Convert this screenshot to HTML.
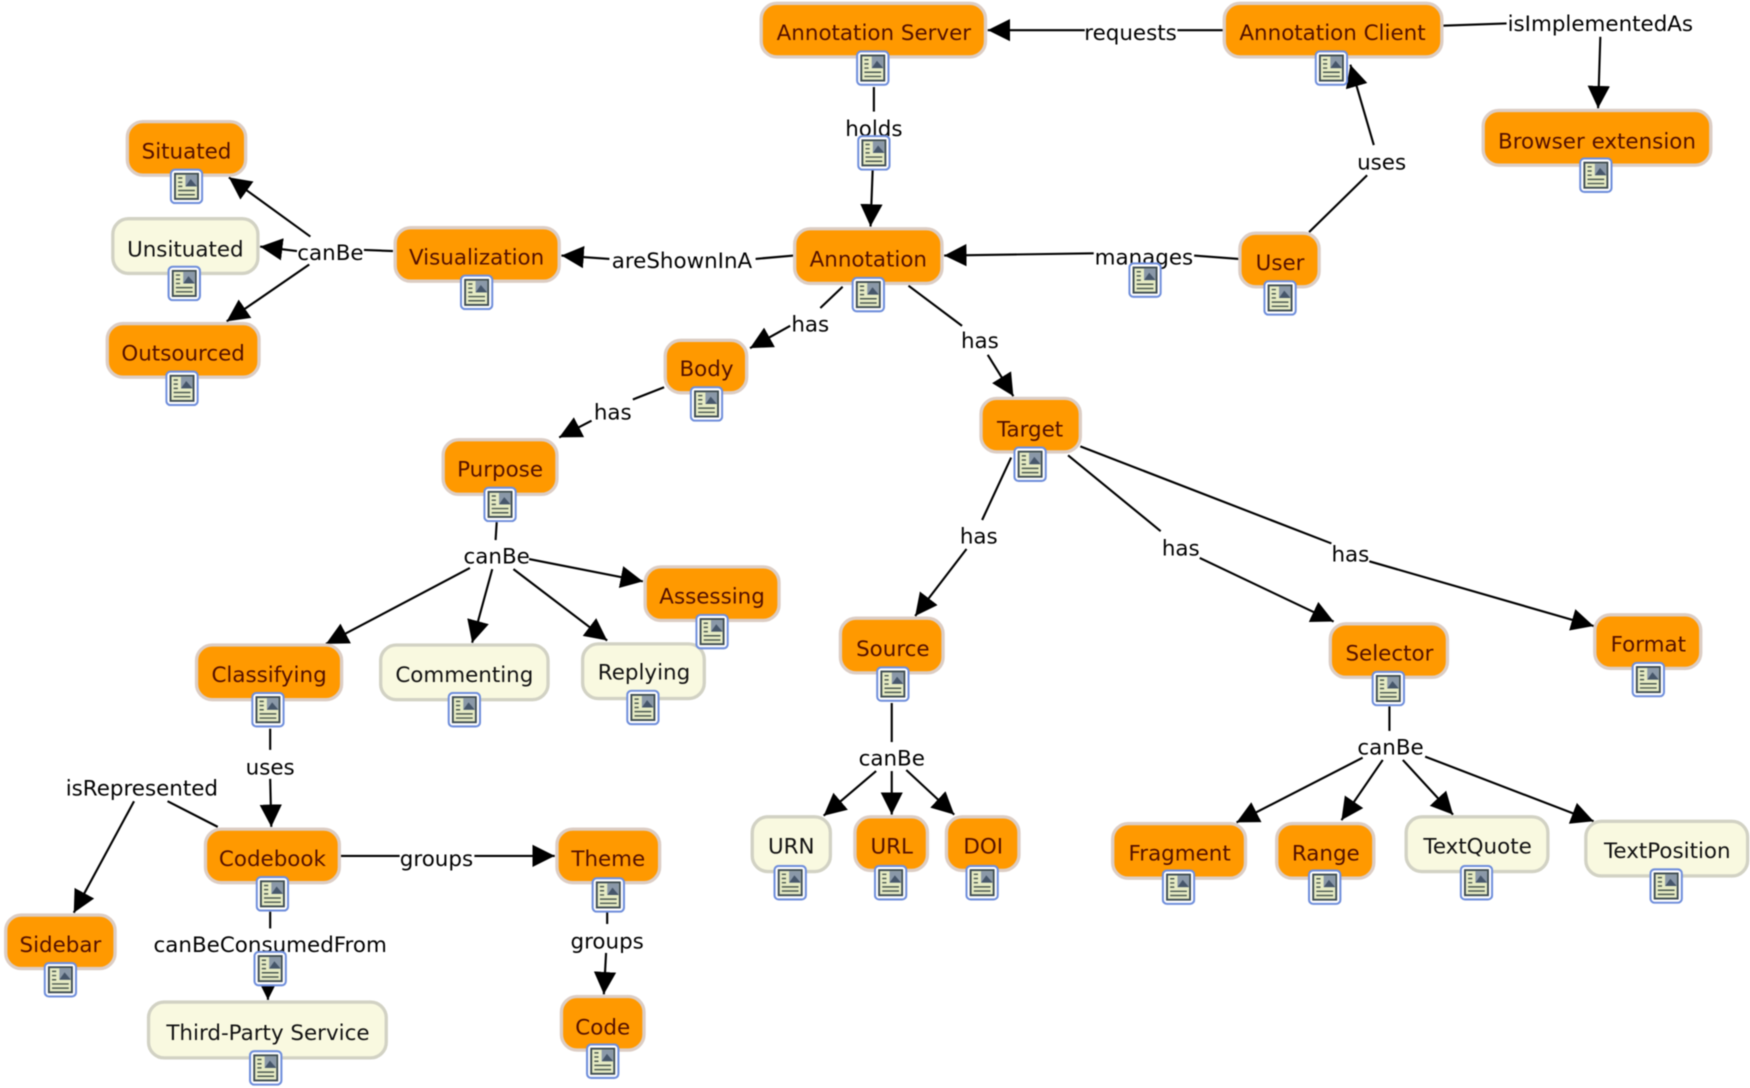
<!DOCTYPE html>
<html><head><meta charset="utf-8"><style>
html,body{margin:0;padding:0;background:#fff;width:1750px;height:1088px;overflow:hidden}
svg{display:block;filter:blur(.55px)}
text{font-family:"DejaVu Sans",sans-serif;font-size:19.2px;text-anchor:middle}
.o{fill:#ff9900;stroke:#dccdc4;stroke-width:3}
.c{fill:#f9f9e0;stroke:#d2d2c4;stroke-width:3}
.ot{fill:#541000}.ct{fill:#111}.l{fill:#000}
.e line{stroke:#000;stroke-width:1.9}
</style></head><body>
<svg width="1750" height="1088" viewBox="0 0 1568 975" xmlns="http://www.w3.org/2000/svg">
<defs>
<marker id="a" markerUnits="userSpaceOnUse" markerWidth="22" markerHeight="22" refX="20" refY="10" orient="auto"><path d="M0 0L20 10L0 20Z" fill="#000"/></marker>
<symbol id="i" width="30" height="32" viewBox="0 0 32 34">
<rect x="1" y="1" width="30" height="32" rx="4" fill="#fff" stroke="#6f8edb" stroke-width="2"/>
<rect x="5" y="5" width="22" height="24" fill="#e6ebc4" stroke="#3c4a50" stroke-width="1.8"/>
<rect x="15" y="6" width="11" height="11" fill="#8a98a8"/>
<path d="M15 17L20 10L26 17Z" fill="#46566a"/>
<path d="M8 9h4M8 13h4M8 17h4M8 21h16M8 25h16" stroke="#4c5a50" stroke-width="1.4"/>
</symbol>
</defs>
<g class="e">
<line x1="1096" y1="27" x2="1055" y2="27"/><line x1="972" y1="27" x2="885" y2="27" marker-end="url(#a)"/>
<line x1="1293" y1="23" x2="1350" y2="21"/><line x1="1434" y1="33" x2="1432" y2="97" marker-end="url(#a)"/>
<line x1="783" y1="78" x2="783" y2="100"/><line x1="782" y1="150" x2="780" y2="203" marker-end="url(#a)"/>
<line x1="1173" y1="208" x2="1225" y2="157"/><line x1="1231" y1="130" x2="1210" y2="58" marker-end="url(#a)"/>
<line x1="1110" y1="232" x2="1070" y2="229"/><line x1="980" y1="227" x2="846" y2="229" marker-end="url(#a)"/>
<line x1="711" y1="229" x2="677" y2="232"/><line x1="546" y1="232" x2="503" y2="229" marker-end="url(#a)"/>
<line x1="352" y1="225" x2="326" y2="224"/><line x1="266" y1="225" x2="233" y2="221" marker-end="url(#a)"/>
<line x1="278" y1="212" x2="205" y2="159" marker-end="url(#a)"/><line x1="277" y1="237" x2="203" y2="288" marker-end="url(#a)"/>
<line x1="755" y1="257" x2="735" y2="276"/><line x1="708" y1="292" x2="672" y2="312" marker-end="url(#a)"/>
<line x1="814" y1="256" x2="862" y2="292"/><line x1="885" y1="318" x2="908" y2="355" marker-end="url(#a)"/>
<line x1="595" y1="347" x2="567" y2="358"/><line x1="530" y1="377" x2="501" y2="392" marker-end="url(#a)"/>
<line x1="445" y1="468" x2="444" y2="484"/><line x1="474" y1="501" x2="576" y2="521" marker-end="url(#a)"/>
<line x1="421" y1="509" x2="292" y2="577" marker-end="url(#a)"/><line x1="441" y1="510" x2="423" y2="576" marker-end="url(#a)"/><line x1="460" y1="510" x2="544" y2="574" marker-end="url(#a)"/>
<line x1="906" y1="410" x2="880" y2="466"/><line x1="866" y1="492" x2="820" y2="552" marker-end="url(#a)"/>
<line x1="957" y1="408" x2="1040" y2="476"/><line x1="1075" y1="500" x2="1195" y2="557" marker-end="url(#a)"/>
<line x1="968" y1="400" x2="1193" y2="487"/><line x1="1227" y1="503" x2="1428" y2="561" marker-end="url(#a)"/>
<line x1="799" y1="630" x2="799" y2="665"/><line x1="785" y1="691" x2="738" y2="731" marker-end="url(#a)"/><line x1="799" y1="691" x2="799" y2="730" marker-end="url(#a)"/><line x1="812" y1="690" x2="855" y2="730" marker-end="url(#a)"/>
<line x1="1245" y1="633" x2="1245" y2="655"/><line x1="1221" y1="679" x2="1108" y2="737" marker-end="url(#a)"/><line x1="1239" y1="681" x2="1202" y2="735" marker-end="url(#a)"/><line x1="1257" y1="681" x2="1302" y2="730" marker-end="url(#a)"/><line x1="1277" y1="678" x2="1428" y2="736" marker-end="url(#a)"/>
<line x1="242" y1="653" x2="242" y2="672"/><line x1="242" y1="698" x2="243" y2="741" marker-end="url(#a)"/>
<line x1="195" y1="741" x2="150" y2="718"/><line x1="120" y1="718" x2="66" y2="818" marker-end="url(#a)"/>
<line x1="305" y1="767" x2="358" y2="767"/><line x1="425" y1="767" x2="497" y2="767" marker-end="url(#a)"/>
<line x1="242" y1="817" x2="242" y2="832"/><line x1="240" y1="878" x2="240" y2="896" marker-end="url(#a)"/>
<line x1="544" y1="817" x2="544" y2="828"/><line x1="543" y1="854" x2="541" y2="891" marker-end="url(#a)"/>
</g>
<g>
<text class="l" x="1013" y="36">requests</text>
<text class="l" x="1434" y="28">isImplementedAs</text>
<text class="l" x="783" y="122">holds</text>
<text class="l" x="1238" y="152">uses</text>
<text class="l" x="1025" y="237">manages</text>
<text class="l" x="611" y="240">areShownInA</text>
<text class="l" x="296" y="233">canBe</text>
<text class="l" x="726" y="297">has</text>
<text class="l" x="878" y="312">has</text>
<text class="l" x="549" y="376">has</text>
<text class="l" x="445" y="505">canBe</text>
<text class="l" x="877" y="487">has</text>
<text class="l" x="1058" y="498">has</text>
<text class="l" x="1210" y="503">has</text>
<text class="l" x="799" y="686">canBe</text>
<text class="l" x="1246" y="676">canBe</text>
<text class="l" x="242" y="694">uses</text>
<text class="l" x="127" y="713">isRepresented</text>
<text class="l" x="391" y="776">groups</text>
<text class="l" x="242" y="853">canBeConsumedFrom</text>
<text class="l" x="544" y="850">groups</text>
</g>
<g>
<rect class="o" x="682" y="3" width="201" height="48" rx="14"/><text class="ot" x="783" y="36">Annotation Server</text>
<rect class="o" x="1097" y="3" width="195" height="48" rx="14"/><text class="ot" x="1194" y="36">Annotation Client</text>
<rect class="o" x="1329" y="99" width="204" height="49" rx="14"/><text class="ot" x="1431" y="133">Browser extension</text>
<rect class="o" x="114" y="109" width="106" height="48" rx="14"/><text class="ot" x="167" y="142">Situated</text>
<rect class="c" x="101" y="196" width="130" height="49" rx="14"/><text class="ct" x="166" y="230">Unsituated</text>
<rect class="o" x="96" y="290" width="136" height="48" rx="14"/><text class="ot" x="164" y="323">Outsourced</text>
<rect class="o" x="354" y="204" width="147" height="48" rx="14"/><text class="ot" x="427" y="237">Visualization</text>
<rect class="o" x="712" y="205" width="132" height="49" rx="14"/><text class="ot" x="778" y="239">Annotation</text>
<rect class="o" x="1111" y="209" width="71" height="48" rx="14"/><text class="ot" x="1147" y="242">User</text>
<rect class="o" x="596" y="305" width="73" height="47" rx="14"/><text class="ot" x="633" y="337">Body</text>
<rect class="o" x="879" y="357" width="89" height="48" rx="14"/><text class="ot" x="923" y="391">Target</text>
<rect class="o" x="397" y="394" width="102" height="49" rx="14"/><text class="ot" x="448" y="427">Purpose</text>
<rect class="o" x="578" y="508" width="120" height="48" rx="14"/><text class="ot" x="638" y="541">Assessing</text>
<rect class="o" x="176" y="578" width="130" height="49" rx="14"/><text class="ot" x="241" y="611">Classifying</text>
<rect class="c" x="341" y="578" width="150" height="49" rx="14"/><text class="ct" x="416" y="611">Commenting</text>
<rect class="c" x="522" y="577" width="109" height="49" rx="14"/><text class="ct" x="577" y="609">Replying</text>
<rect class="o" x="753" y="554" width="92" height="49" rx="14"/><text class="ot" x="800" y="588">Source</text>
<rect class="o" x="1192" y="559" width="105" height="48" rx="14"/><text class="ot" x="1245" y="592">Selector</text>
<rect class="o" x="1429" y="551" width="95" height="48" rx="14"/><text class="ot" x="1477" y="584">Format</text>
<rect class="o" x="184" y="743" width="120" height="48" rx="14"/><text class="ot" x="244" y="776">Codebook</text>
<rect class="o" x="499" y="743" width="92" height="48" rx="14"/><text class="ot" x="545" y="776">Theme</text>
<rect class="c" x="674" y="732" width="70" height="49" rx="14"/><text class="ct" x="709" y="765">URN</text>
<rect class="o" x="766" y="732" width="65" height="48" rx="14"/><text class="ot" x="799" y="765">URL</text>
<rect class="o" x="848" y="732" width="65" height="48" rx="14"/><text class="ot" x="881" y="765">DOI</text>
<rect class="o" x="997" y="738" width="119" height="49" rx="14"/><text class="ot" x="1057" y="771">Fragment</text>
<rect class="o" x="1144" y="738" width="87" height="49" rx="14"/><text class="ot" x="1188" y="771">Range</text>
<rect class="c" x="1260" y="732" width="127" height="49" rx="14"/><text class="ct" x="1324" y="765">TextQuote</text>
<rect class="c" x="1421" y="736" width="145" height="49" rx="14"/><text class="ct" x="1494" y="769">TextPosition</text>
<rect class="o" x="5" y="820" width="98" height="48" rx="14"/><text class="ot" x="54" y="853">Sidebar</text>
<rect class="c" x="133" y="898" width="213" height="50" rx="14"/><text class="ct" x="240" y="932">Third-Party Service</text>
<rect class="o" x="503" y="893" width="74" height="48" rx="14"/><text class="ot" x="540" y="927">Code</text>
</g>
<g transform="translate(1,1)">
<use href="#i" x="766" y="44"/><use href="#i" x="1177" y="44"/><use href="#i" x="1414" y="140"/><use href="#i" x="767" y="120"/>
<use href="#i" x="151" y="150"/><use href="#i" x="149" y="237"/><use href="#i" x="147" y="331"/><use href="#i" x="411" y="245"/>
<use href="#i" x="762" y="247"/><use href="#i" x="1010" y="234"/><use href="#i" x="1131" y="250"/><use href="#i" x="617" y="345"/>
<use href="#i" x="907" y="399"/><use href="#i" x="432" y="435"/><use href="#i" x="622" y="549"/><use href="#i" x="224" y="619"/>
<use href="#i" x="400" y="619"/><use href="#i" x="560" y="617"/><use href="#i" x="784" y="596"/><use href="#i" x="1228" y="600"/>
<use href="#i" x="1461" y="592"/><use href="#i" x="228" y="784"/><use href="#i" x="529" y="785"/><use href="#i" x="226" y="851"/>
<use href="#i" x="692" y="774"/><use href="#i" x="782" y="774"/><use href="#i" x="864" y="774"/><use href="#i" x="1040" y="778"/>
<use href="#i" x="1171" y="778"/><use href="#i" x="1307" y="774"/><use href="#i" x="1477" y="777"/><use href="#i" x="38" y="861"/>
<use href="#i" x="222" y="940"/><use href="#i" x="524" y="934"/>
</g>
</svg>
</body></html>
